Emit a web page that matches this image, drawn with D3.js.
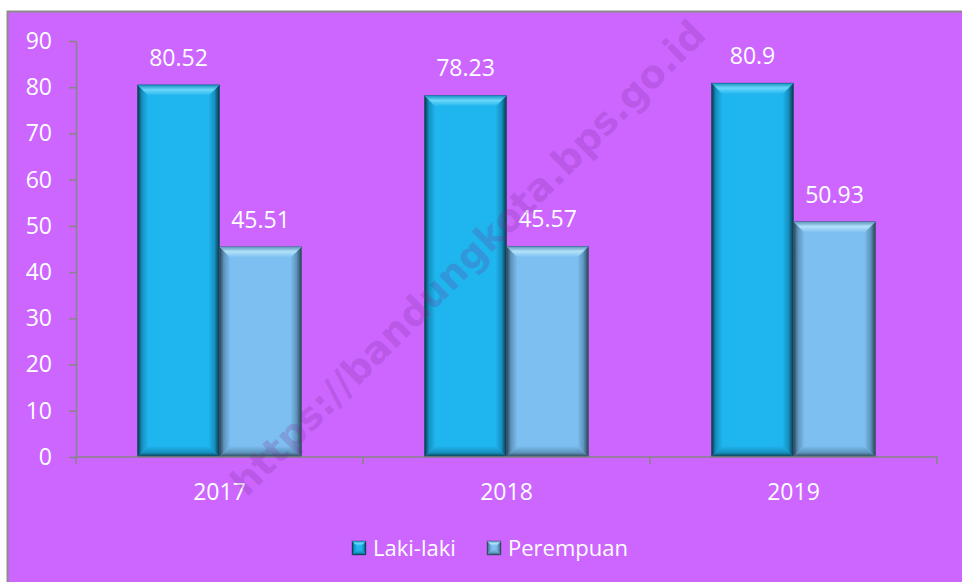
<!DOCTYPE html>
<html>
<head>
<meta charset="utf-8">
<script src="https://cdn.jsdelivr.net/npm/d3@7"></script>
<style>
  body { margin: 0; background: #fff; }
  svg { display: block; }
</style>
</head>
<body>
<script>
// data
var years = ["2017", "2018", "2019"];
var series = ["Laki-laki", "Perempuan"];
var laki = [80.52, 78.23, 80.9];
var perempuan = [45.51, 45.57, 50.93];
var yTicks = [0, 10, 20, 30, 40, 50, 60, 70, 80, 90];

var w = 962, h = 582;
var margin = {top: 41, right: 25, bottom: 125, left: 76};

var colors = {
  "Laki-laki": {base: "#1fb5ee", light: "#6ad8fa", dark: "#0b3344", mid: "#1590c0"},
  "Perempuan": {base: "#7dbff0", light: "#b2e2fa", dark: "#2c4152", mid: "#5d93bd"}
};
var font = "'Open Sans', 'Noto Sans', sans-serif";

var svg = d3.select("body").append("svg")
  .attr("width", w)
  .attr("height", h);

// chart area background + border
svg.append("rect")
  .attr("x", 7.5).attr("y", 11.5)
  .attr("width", w).attr("height", h)
  .attr("fill", "#cc66ff")
  .attr("stroke", "#8c8c8c")
  .attr("stroke-width", 2);

var x0 = d3.scaleBand()
  .domain(years)
  .range([margin.left, w - margin.right])
  .paddingInner(0).paddingOuter(0);

var x1 = d3.scaleBand()
  .domain(series)
  .range([0, x0.bandwidth()])
  .paddingInner(0).paddingOuter(0.75);

var y = d3.scaleLinear()
  .domain([0, 90])
  .range([h - margin.bottom, margin.top]);

// gradients for bevels
var defs = svg.append("defs");
series.forEach(function(s, i) {
  var c = colors[s];
  var gTop = defs.append("linearGradient").attr("id", "top" + i)
    .attr("x1", 0).attr("y1", 0).attr("x2", 0).attr("y2", 1);
  gTop.append("stop").attr("offset", "0%").attr("stop-color", c.mid);
  gTop.append("stop").attr("offset", "45%").attr("stop-color", c.light);
  gTop.append("stop").attr("offset", "100%").attr("stop-color", c.base);

  var gRight = defs.append("linearGradient").attr("id", "right" + i)
    .attr("x1", 0).attr("y1", 0).attr("x2", 1).attr("y2", 0);
  gRight.append("stop").attr("offset", "0%").attr("stop-color", c.base);
  gRight.append("stop").attr("offset", "55%").attr("stop-color", c.mid);
  gRight.append("stop").attr("offset", "100%").attr("stop-color", c.dark);

  var gLeft = defs.append("linearGradient").attr("id", "left" + i)
    .attr("x1", 0).attr("y1", 0).attr("x2", 1).attr("y2", 0);
  gLeft.append("stop").attr("offset", "0%").attr("stop-color", c.dark);
  gLeft.append("stop").attr("offset", "40%").attr("stop-color", c.mid);
  gLeft.append("stop").attr("offset", "100%").attr("stop-color", c.base);

  var gBot = defs.append("linearGradient").attr("id", "bot" + i)
    .attr("x1", 0).attr("y1", 0).attr("x2", 0).attr("y2", 1);
  gBot.append("stop").attr("offset", "0%").attr("stop-color", c.base);
  gBot.append("stop").attr("offset", "60%").attr("stop-color", c.mid);
  gBot.append("stop").attr("offset", "100%").attr("stop-color", c.dark);
});

// bevelled box
function bevelBox(g, bx, by, bw, bh, b, i, base) {
  g.append("rect").attr("x", bx).attr("y", by).attr("width", bw).attr("height", bh)
    .attr("fill", base);
  var pts = function(a) { return a.map(function(p) { return p.join(","); }).join(" "); };
  g.append("polygon").attr("points", pts([[bx, by], [bx + b, by + b], [bx + b, by + bh - b], [bx, by + bh]]))
    .attr("fill", "url(#left" + i + ")");
  g.append("polygon").attr("points", pts([[bx + bw, by], [bx + bw - b, by + b], [bx + bw - b, by + bh - b], [bx + bw, by + bh]]))
    .attr("fill", "url(#right" + i + ")");
  g.append("polygon").attr("points", pts([[bx, by + bh], [bx + b, by + bh - b], [bx + bw - b, by + bh - b], [bx + bw, by + bh]]))
    .attr("fill", "url(#bot" + i + ")");
  g.append("polygon").attr("points", pts([[bx, by], [bx + bw, by], [bx + bw - b, by + b], [bx + b, by + b]]))
    .attr("fill", "url(#top" + i + ")");
  g.append("rect").attr("x", bx).attr("y", by).attr("width", bw).attr("height", bh)
    .attr("fill", "none").attr("stroke", "#0c2530").attr("stroke-opacity", 0.35).attr("stroke-width", 0.8);
}

// y axis
var yAxis = svg.append("g")
  .attr("transform", "translate(" + margin.left + ",0)")
  .call(d3.axisLeft(y).tickValues(yTicks).tickSize(7).tickPadding(17).tickSizeOuter(0));
yAxis.select(".domain").attr("stroke", "#868686").attr("stroke-width", 1.5);
yAxis.selectAll(".tick line").attr("stroke", "#868686").attr("stroke-width", 1.5);
yAxis.selectAll(".tick text")
  .attr("fill", "#fff")
  .style("font-family", font)
  .style("font-size", "23px");

// bars
var data = years.map(function(yr, k) {
  return {year: yr, values: [laki[k], perempuan[k]]};
});

var groups = svg.selectAll("g.year")
  .data(data)
  .enter().append("g")
  .attr("class", "year")
  .attr("transform", function(d) { return "translate(" + x0(d.year) + ",0)"; });

groups.each(function(d) {
  var g = d3.select(this);
  d.values.forEach(function(v, i) {
    var s = series[i];
    var bx = x1(s), by = y(v), bw = x1.bandwidth(), bh = y(0) - y(v);
    bevelBox(g, bx, by, bw, bh, 11, i, colors[s].base);
    g.append("text")
      .attr("x", bx + bw / 2)
      .attr("y", by - 19)
      .attr("text-anchor", "middle")
      .attr("fill", "#fff")
      .style("font-family", font)
      .style("font-size", "23px")
      .text(v);
  });
});

// x axis
var xa = svg.append("g");
xa.append("line")
  .attr("x1", margin.left).attr("x2", w - margin.right)
  .attr("y1", y(0)).attr("y2", y(0))
  .attr("stroke", "#868686").attr("stroke-width", 1.5);
var bounds = years.map(function(d) { return x0(d); }).concat([x0(years[years.length - 1]) + x0.bandwidth()]);
xa.selectAll("line.tk")
  .data(bounds)
  .enter().append("line")
  .attr("class", "tk")
  .attr("x1", function(d) { return d; }).attr("x2", function(d) { return d; })
  .attr("y1", y(0)).attr("y2", y(0) + 7)
  .attr("stroke", "#868686").attr("stroke-width", 1.5);
xa.selectAll("text")
  .data(years)
  .enter().append("text")
  .attr("x", function(d) { return x0(d) + x0.bandwidth() / 2; })
  .attr("y", y(0) + 43)
  .attr("text-anchor", "middle")
  .attr("fill", "#fff")
  .style("font-family", font)
  .style("font-size", "23px")
  .text(function(d) { return d; });

// legend
var legX = [352, 487];
var legend = svg.selectAll("g.legend")
  .data(series)
  .enter().append("g")
  .attr("class", "legend")
  .attr("transform", function(d, i) { return "translate(" + legX[i] + ",541)"; });

legend.each(function(d, i) {
  bevelBox(d3.select(this), 0, 0, 14, 14, 5, i, colors[d].base);
});
legend.append("text")
  .attr("x", 21)
  .attr("y", 15)
  .attr("fill", "#fff")
  .style("font-family", font)
  .style("font-size", "22px")
  .text(function(d) { return d; });

// watermark (drawn over the chart)
svg.append("text")
  .attr("transform", "translate(468,258) rotate(-45)")
  .attr("text-anchor", "middle")
  .attr("dominant-baseline", "central")
  .style("font-family", "'DejaVu Sans', sans-serif")
  .style("font-weight", "bold")
  .style("font-size", "38px")
  .attr("fill", "#7a2a94")
  .attr("fill-opacity", 0.22)
  .text("https://bandungkota.bps.go.id");
</script>
</body>
</html>
